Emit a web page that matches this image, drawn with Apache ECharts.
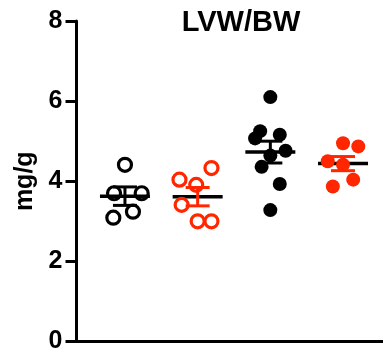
<!DOCTYPE html>
<html>
<head>
<meta charset="utf-8">
<script src="https://cdn.jsdelivr.net/npm/echarts@6/dist/echarts.min.js"></script>
<style>
html,body{margin:0;padding:0;background:#fff;}
#chart{width:383px;height:355px;}
</style>
</head>
<body>
<div id="chart"></div>
<script>
// 数据
var groupNames = ['open black', 'open red', 'filled black', 'filled red'];
var groupColors = ['#000000', '#ff2600', '#000000', '#ff2600'];
var groupFilled = [false, false, true, true];

var g1Values = [4.41, 3.70, 3.70, 3.09, 3.24];
var g1Jitter = [0, -0.15, 0.23, -0.16, 0.11];
var g2Values = [4.33, 4.04, 3.91, 3.41, 3.00, 3.00];
var g2Jitter = [0.19, -0.25, -0.02, -0.22, 0, 0.19];
var g3Values = [6.10, 5.25, 5.07, 5.16, 4.76, 4.64, 4.36, 3.93, 3.28];
var g3Jitter = [0, -0.14, -0.21, 0.13, 0.21, 0, -0.12, 0.13, 0];
var g4Values = [4.95, 4.87, 4.50, 4.41, 4.04, 3.87];
var g4Jitter = [0, 0.21, -0.21, 0, 0.14, -0.14];

var yTicks = [0, 2, 4, 6, 8];

var allValues = [g1Values, g2Values, g3Values, g4Values];
var allJitter = [g1Jitter, g2Jitter, g3Jitter, g4Jitter];

// 平均值和标准误
function meanSem(arr) {
	var s = 0;
	for (var i = 0; i < arr.length; i++) s += arr[i];
	var m = s / arr.length;
	var v = 0;
	for (var i = 0; i < arr.length; i++) v += (arr[i] - m) * (arr[i] - m);
	var sd = Math.sqrt(v / (arr.length - 1));
	return [m, sd / Math.sqrt(arr.length)];
}

var statData = [];
var series = [];
for (var g = 0; g < allValues.length; g++) {
	var ms = meanSem(allValues[g]);
	statData.push([g + 1, ms[0], ms[1], g]);
}

series.push({
	type: 'custom',
	z: 1,
	data: statData,
	renderItem: function(params, api) {
		var x = api.value(0);
		var m = api.value(1);
		var se = api.value(2);
		var col = groupColors[api.value(3)];
		var pm = api.coord([x, m]);
		var pt = api.coord([x, m + se]);
		var pb = api.coord([x, m - se]);
		return {
			type: 'group',
			children: [{
				type: 'line',
				shape: {x1: pm[0] - 25, y1: pm[1], x2: pm[0] + 25, y2: pm[1]},
				style: {stroke: '#000', lineWidth: 3.5}
			}, {
				type: 'line',
				shape: {x1: pt[0], y1: pt[1], x2: pb[0], y2: pb[1]},
				style: {stroke: col, lineWidth: 3}
			}, {
				type: 'line',
				shape: {x1: pt[0] - 12, y1: pt[1], x2: pt[0] + 12, y2: pt[1]},
				style: {stroke: col, lineWidth: 3}
			}, {
				type: 'line',
				shape: {x1: pb[0] - 12, y1: pb[1], x2: pb[0] + 12, y2: pb[1]},
				style: {stroke: col, lineWidth: 3}
			}]
		};
	}
});

for (var g = 0; g < allValues.length; g++) {
	var pts = [];
	for (var i = 0; i < allValues[g].length; i++) {
		pts.push([g + 1 + allJitter[g][i], allValues[g][i]]);
	}
	series.push({
		name: groupNames[g],
		type: 'scatter',
		z: 3,
		data: pts,
		symbol: 'circle',
		symbolSize: groupFilled[g] ? 14 : 13,
		itemStyle: groupFilled[g] ? {color: groupColors[g], opacity: 1} :
			{color: 'rgba(0,0,0,0)', borderColor: groupColors[g], borderWidth: 3.2, opacity: 1},
		emphasis: {disabled: true}
	});
}

var chart = echarts.init(document.getElementById('chart'));
chart.setOption({
	animation: false,
	title: {
		text: 'LVW/BW',
		left: 236,
		top: 3,
		textAlign: 'center',
		textStyle: {fontFamily: 'Liberation Sans, Arial, sans-serif', fontWeight: 'bold', fontSize: 29, color: '#000'}
	},
	grid: {left: 76.5, right: 0, top: 21, bottom: 13.5, containLabel: false},
	xAxis: {
		type: 'value',
		min: 1 / 3,
		max: 4.55,
		axisLine: {show: true, lineStyle: {color: '#000', width: 3}},
		axisTick: {show: false},
		axisLabel: {show: false},
		splitLine: {show: false}
	},
	yAxis: {
		type: 'value',
		min: yTicks[0],
		max: yTicks[yTicks.length - 1],
		interval: 2,
		name: 'mg/g',
		nameLocation: 'middle',
		nameRotate: 90,
		nameGap: 39,
		nameTextStyle: {fontFamily: 'Liberation Sans, Arial, sans-serif', fontWeight: 'bold', fontSize: 25, color: '#000'},
		axisLine: {show: true, lineStyle: {color: '#000', width: 3}},
		axisTick: {show: true, length: 11, lineStyle: {color: '#000', width: 3}},
		axisLabel: {margin: 14, fontFamily: 'Liberation Sans, Arial, sans-serif', fontWeight: 'bold', fontSize: 25, color: '#000'},
		splitLine: {show: false}
	},
	series: series
});
</script>
</body>
</html>
